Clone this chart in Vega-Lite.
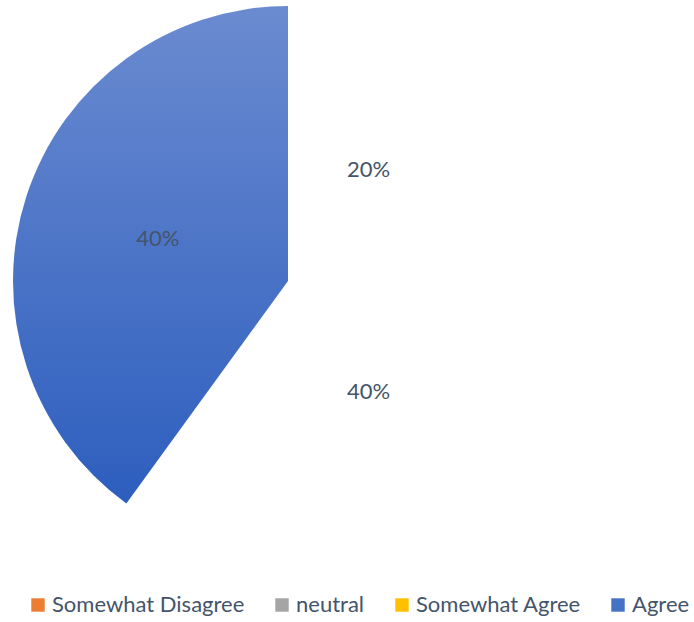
{
  "$schema": "https://vega.github.io/schema/vega-lite/v6.json",
  "width": 576,
  "height": 562,
  "padding": 0,
  "background": "white",
  "view": {"stroke": null},
  "data": {"values": [
    {"cat": "Somewhat Disagree", "v": 20, "ord": 1, "lbl": "20%"},
    {"cat": "neutral", "v": 40, "ord": 2, "lbl": "40%"},
    {"cat": "Somewhat Agree", "v": 0, "ord": 3, "lbl": "0%"},
    {"cat": "Agree", "v": 40, "ord": 4, "lbl": "40%"}
  ]},
  "encoding": {
    "theta": {"field": "v", "type": "quantitative", "stack": true},
    "order": {"field": "ord", "type": "quantitative"}
  },
  "layer": [
    {
      "mark": {"type": "arc", "outerRadius": 275},
      "encoding": {
        "color": {
          "field": "cat",
          "type": "nominal",
          "scale": {
            "domain": ["Somewhat Disagree", "neutral", "Somewhat Agree", "Agree"],
            "range": ["#ED7D31", "#A5A5A5", "#FFC000", "#4472C4"]
          },
          "legend": {
            "title": null,
            "orient": "none",
            "legendX": 27,
            "legendY": 594,
            "direction": "horizontal",
            "symbolType": "square",
            "symbolSize": 180,
            "symbolStrokeWidth": 0,
            "labelFont": "Lato",
            "labelFontSize": 22,
            "labelColor": "#44546A",
            "labelOffset": 3,
            "columnPadding": 26,
            "labelLimit": 400
          },
          "condition": [
            {"test": "datum.cat === 'Agree'", "value": {"gradient": "linear", "x1": 0, "y1": 0, "x2": 0, "y2": 1, "stops": [{"offset": 0, "color": "#6B8BD0"}, {"offset": 1, "color": "#2D5EBE"}]}},
            {"test": "datum.cat !== 'Agree'", "value": "transparent"}
          ]
        }
      }
    },
    {
      "transform": [{"filter": "datum.v > 0"}],
      "mark": {"type": "text", "radius": 137, "font": "Lato", "fontSize": 22, "color": "#44546A"},
      "encoding": {
        "text": {"field": "lbl", "type": "nominal"},
        "detail": {"field": "cat", "type": "nominal"}
      }
    }
  ]
}
